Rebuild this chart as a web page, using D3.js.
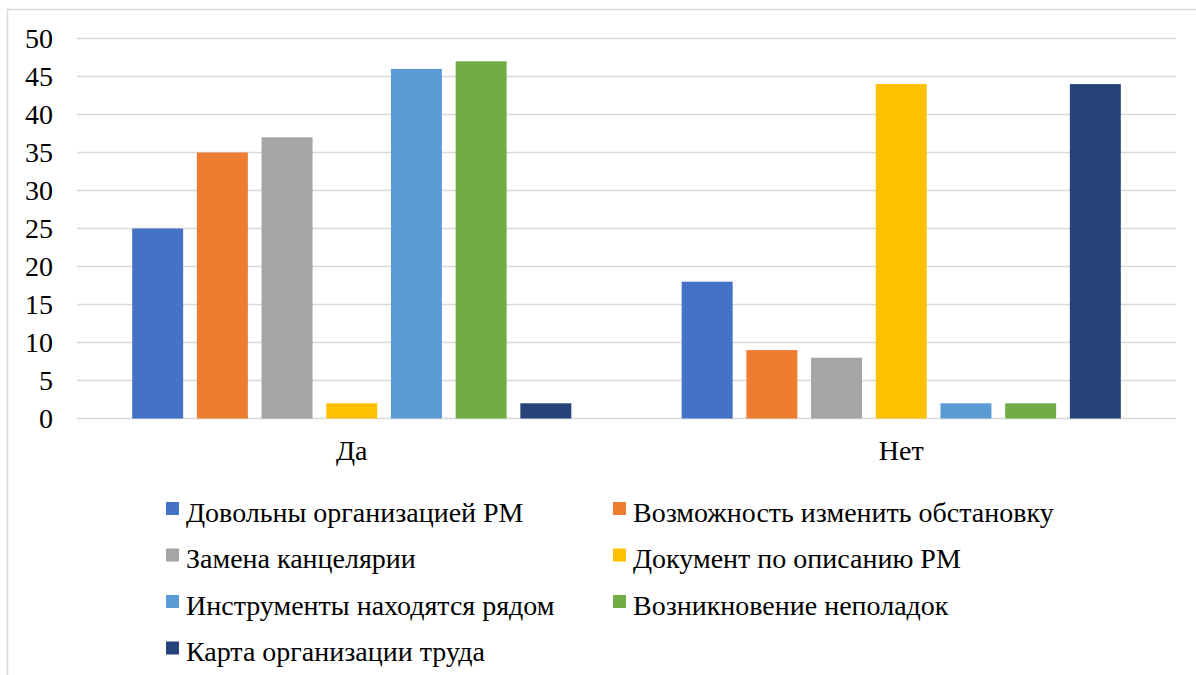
<!DOCTYPE html>
<html>
<head>
<meta charset="utf-8">
<script src="https://cdn.jsdelivr.net/npm/d3@7"></script>
<style>
  svg text { font-family: "Times New Roman", "Liberation Serif", Tinos, serif !important; }
</style>
</head>
<body style="margin:0">
<script>
var categories = ["Да", "Нет"];
var seriesNames = [
  "Довольны организацией РМ",
  "Возможность изменить обстановку",
  "Замена канцелярии",
  "Документ по описанию РМ",
  "Инструменты находятся рядом",
  "Возникновение неполадок",
  "Карта организации труда"
];
// values per series: [Да, Нет]
var seriesValues = [
  [25, 18],
  [35, 9],
  [37, 8],
  [2, 44],
  [46, 2],
  [47, 2],
  [2, 44]
];
var yTicks = [0, 5, 10, 15, 20, 25, 30, 35, 40, 45, 50];
var colors = ["#4472C4", "#ED7D31", "#A5A5A5", "#FFC000", "#5B9BD5", "#70AD47", "#264478"];

var width = 1196, height = 675;
var plot = {left: 77, right: 1176, top: 38.5, bottom: 418.5};
var fontName = "Times New Roman";

var svg = d3.select("body").append("svg")
  .attr("width", width)
  .attr("height", height);

// chart frame (right and bottom edges run off the picture)
svg.append("rect")
  .attr("x", 7.5).attr("y", 9.5)
  .attr("width", 1250).attr("height", 700)
  .attr("fill", "none")
  .attr("stroke", "#D9D9D9")
  .attr("stroke-width", 1.5);

var y = d3.scaleLinear().domain([0, 50]).range([plot.bottom, plot.top]);
var x0 = d3.scaleBand().domain(categories).range([plot.left, plot.right]);
var x1 = d3.scaleBand().domain(d3.range(seriesNames.length))
  .range([0, x0.bandwidth()])
  .paddingInner(0.212)
  .paddingOuter(0.853);

// gridlines
svg.append("g")
  .selectAll("line")
  .data(yTicks)
  .enter()
  .append("line")
    .attr("x1", plot.left).attr("x2", plot.right)
    .attr("y1", function(d) { return y(d); })
    .attr("y2", function(d) { return y(d); })
    .attr("stroke", "#D9D9D9")
    .attr("stroke-width", 1.5);

// y axis labels
var yg = svg.append("g")
  .attr("transform", "translate(" + plot.left + ",0)")
  .call(d3.axisLeft(y).tickValues(yTicks).tickSize(0).tickPadding(24))
  .attr("font-family", fontName)
  .attr("font-size", 28);
yg.select(".domain").remove();
yg.selectAll("text")
  .attr("dy", "0.33em")
  .style("font-family", fontName)
  .attr("fill", "#000");

// bars
var groups = svg.append("g")
  .selectAll("g")
  .data(categories)
  .enter()
  .append("g")
    .attr("transform", function(d) { return "translate(" + x0(d) + ",0)"; });

groups.selectAll("rect")
  .data(function(d, ci) {
    return seriesValues.map(function(vals, si) { return {s: si, v: vals[ci]}; });
  })
  .enter()
  .append("rect")
    .attr("x", function(d) { return x1(d.s); })
    .attr("width", x1.bandwidth())
    .attr("y", function(d) { return y(d.v); })
    .attr("height", function(d) { return y(0) - y(d.v); })
    .attr("fill", function(d) { return colors[d.s]; });

// x axis labels
var xg = svg.append("g")
  .attr("transform", "translate(0," + plot.bottom + ")")
  .call(d3.axisBottom(x0).tickSize(0).tickPadding(0))
  .attr("font-family", fontName)
  .attr("font-size", 28);
xg.select(".domain").remove();
xg.selectAll("text")
  .attr("y", 41)
  .attr("dy", 0)
  .style("font-family", fontName)
  .attr("fill", "#000");

// legend
var legendCols = [166, 613];
var legendRows = [508.5, 555, 601.5, 648];
var legend = svg.append("g")
  .attr("font-family", fontName)
  .attr("font-size", 28)
  .selectAll("g")
  .data(seriesNames)
  .enter()
  .append("g")
    .attr("transform", function(d, i) {
      return "translate(" + legendCols[i % 2] + "," + legendRows[Math.floor(i / 2)] + ")";
    });

legend.append("rect")
  .attr("x", 0).attr("y", -6.5)
  .attr("width", 13).attr("height", 13)
  .attr("fill", function(d, i) { return colors[i]; });

legend.append("text")
  .attr("x", 20)
  .attr("y", 13)
  .style("font-family", fontName)
  .attr("fill", "#000")
  .text(function(d) { return d; });
</script>
</body>
</html>
